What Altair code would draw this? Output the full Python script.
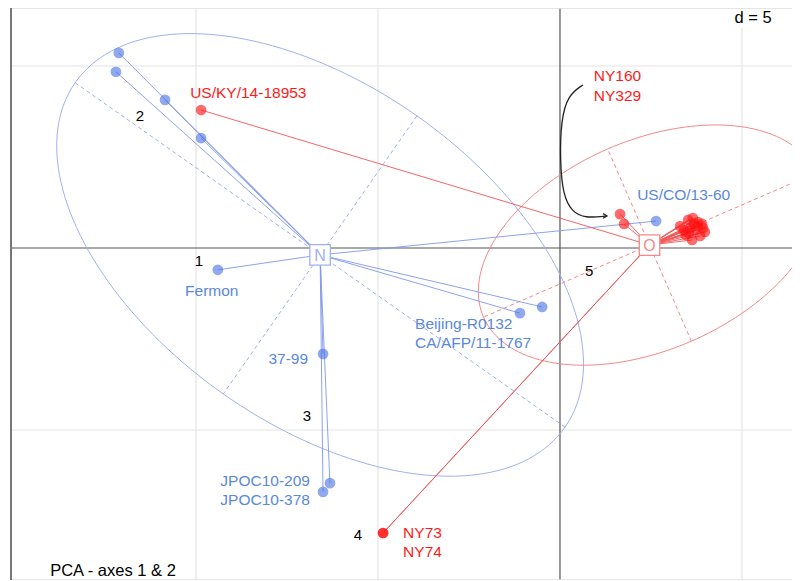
import altair as alt
import pandas as pd
import numpy as np

# ---------------- data ----------------
# group N (blue)
n_x = [-12.12, -12.20, -10.85, -9.86, -9.40, -6.51, -6.32, -6.51, -1.10, -0.49, 2.64]
n_y = [5.36, 4.84, 4.07, 3.02, -0.60, -2.91, -6.46, -6.70, -1.79, -1.62, 0.74]
# group O (red)
o_x = [-9.86, -4.86, -4.86, 1.65, 1.76,
       3.30, 3.52, 3.65, 3.79, 3.93, 3.98, 3.85, 3.63, 3.46, 3.57, 3.71, 3.41, 3.79, 3.90, 3.68, 3.54]
o_y = [3.79, -7.83, -7.83, 0.93, 0.66,
       0.60, 0.77, 0.82, 0.71, 0.55, 0.44, 0.33, 0.22, 0.36, 0.55, 0.49, 0.49, 0.60, 0.66, 0.66, 0.41]

group_names = ["N", "O"]
centroid_x = [-6.59, 2.46]
centroid_y = [-0.19, 0.08]
# ellipse axes (half-axis vectors)
ell_a = [(6.73, -4.73), (-4.56, -1.98)]
ell_b = [(-2.66, -3.82), (-1.15, 2.64)]

label_text = ["US/KY/14-18953", "Fermon", "Beijing-R0132", "CA/AFP/11-1767", "37-99",
              "JPOC10-209", "JPOC10-378", "NY73", "NY74", "NY160", "NY329", "US/CO/13-60"]
label_x = [-10.16, -10.30, -3.98, -3.98, -6.92, -6.87, -6.87, -4.31, -4.31, 0.93, 0.93, 2.12]
label_y = [4.26, -1.18, -2.09, -2.61, -3.05, -6.40, -6.92, -7.83, -8.35, 4.73, 4.18, 1.46]
label_align = ["left", "left", "left", "left", "right", "right", "right", "left", "left", "left", "left", "left"]
label_group = ["O", "N", "N", "N", "N", "N", "N", "O", "O", "O", "O", "N"]

num_text = ["1", "2", "3", "4", "5"]
num_x = [-9.92, -11.54, -6.95, -5.55, 0.80]
num_y = [-0.36, 3.63, -4.62, -7.88, -0.63]

arrow_x = [0.63, 0.22, 0.03, 0.00, 0.08, 0.33, 0.69, 1.29]
arrow_y = [4.48, 4.20, 3.52, 2.42, 1.46, 0.99, 0.82, 0.88]

grid_x = [-10, -5, 5]
grid_y = [5, -5]

PT_COL = {"N": "#4a72e4", "O": "#ff1010"}
LINE_COL = {"N": "#7f98ea", "O": "#f25555"}
ELL_COL = {"N": "#9fb1f0", "O": "#f48888"}
TXT_COL = {"N": "#5a88dc", "O": "#ff1a1a"}

W, H = 781, 572
x_min, x_max = -15.082, 6.374
y_min, y_max = -9.121, 6.593
xs = alt.Scale(domain=[x_min, x_max], nice=False, zero=False)
ys = alt.Scale(domain=[y_min, y_max], nice=False, zero=False)

def X(f="x"):
    return alt.X(f"{f}:Q", scale=xs, axis=None)

def Y(f="y"):
    return alt.Y(f"{f}:Q", scale=ys, axis=None)

def C(f):
    return alt.Color(f"{f}:N", scale=None)

# ---------------- tables ----------------
pts = pd.DataFrame({
    "x": n_x + o_x,
    "y": n_y + o_y,
    "g": ["N"] * len(n_x) + ["O"] * len(o_x),
})
cx = dict(zip(group_names, centroid_x))
cy = dict(zip(group_names, centroid_y))
pts["cx"] = pts["g"].map(cx)
pts["cy"] = pts["g"].map(cy)
pts["pc"] = pts["g"].map(PT_COL)
pts["lc"] = pts["g"].map(LINE_COL)

cent = pd.DataFrame({"g": group_names, "x": centroid_x, "y": centroid_y})
cent["ec"] = cent["g"].map(ELL_COL)
cent["tc"] = cent["g"].map(TXT_COL)

t = np.linspace(0, 2 * np.pi, 181)
ell_rows = []
axis_rows = []
for gi, g in enumerate(group_names):
    (ax, ay), (bx, by) = ell_a[gi], ell_b[gi]
    for k, tt in enumerate(t):
        ell_rows.append({"g": g, "k": k, "ec": ELL_COL[g],
                         "x": centroid_x[gi] + np.cos(tt) * ax + np.sin(tt) * bx,
                         "y": centroid_y[gi] + np.cos(tt) * ay + np.sin(tt) * by})
    for (vx, vy) in [(ax, ay), (bx, by)]:
        axis_rows.append({"g": g, "ec": ELL_COL[g],
                          "x": centroid_x[gi] - vx, "y": centroid_y[gi] - vy,
                          "x2": centroid_x[gi] + vx, "y2": centroid_y[gi] + vy})
ell = pd.DataFrame(ell_rows)
axes_df = pd.DataFrame(axis_rows)

labels = pd.DataFrame({"t": label_text, "x": label_x, "y": label_y,
                       "a": label_align, "g": label_group})
labels["tc"] = labels["g"].map(TXT_COL)
nums = pd.DataFrame({"t": num_text, "x": num_x, "y": num_y})
arrow = pd.DataFrame({"x": arrow_x, "y": arrow_y, "k": range(len(arrow_x))})
gx = pd.DataFrame({"x": grid_x})
gy = pd.DataFrame({"y": grid_y})
zero = pd.DataFrame({"v": [0]})

# ---------------- layers ----------------
grid_v = alt.Chart(gx).mark_rule(color="#e3e3e3", strokeWidth=1.2).encode(x=X())
grid_h = alt.Chart(gy).mark_rule(color="#e3e3e3", strokeWidth=1.2).encode(y=Y())
axis_v = alt.Chart(zero).mark_rule(color="#555555", strokeWidth=1.2).encode(x=X("v"))
axis_h = alt.Chart(zero).mark_rule(color="#555555", strokeWidth=1.2).encode(y=Y("v"))

ellipses = alt.Chart(ell).mark_line(strokeWidth=1, clip=True).encode(
    x=X(), y=Y(), color=C("ec"), detail="g:N", order="k:Q")
ell_axes = alt.Chart(axes_df).mark_rule(strokeWidth=1, strokeDash=[4, 3], clip=True).encode(
    x=X(), y=Y(), x2="x2:Q", y2="y2:Q", color=C("ec"))

spokes = alt.Chart(pts).mark_rule(strokeWidth=1, opacity=0.9).encode(
    x=X("cx"), y=Y("cy"), x2="x:Q", y2="y:Q", color=C("lc"))

points = alt.Chart(pts).mark_circle(size=115, opacity=0.62).encode(
    x=X(), y=Y(), color=C("pc"))

boxes = alt.Chart(cent).mark_square(size=420, filled=False, fill="white", strokeWidth=1.3,
                                    opacity=1, fillOpacity=1).encode(
    x=X(), y=Y(), stroke=alt.Stroke("ec:N", scale=None))
box_txt = alt.Chart(cent).mark_text(fontSize=16, font="Liberation Sans", baseline="middle", dy=1).encode(
    x=X(), y=Y(), text="g:N", color=C("ec"))

lab_left = alt.Chart(labels[labels.a == "left"]).mark_text(
    fontSize=15.5, font="Liberation Sans", align="left", baseline="middle").encode(
    x=X(), y=Y(), text="t:N", color=C("tc"))
lab_right = alt.Chart(labels[labels.a == "right"]).mark_text(
    fontSize=15.5, font="Liberation Sans", align="right", baseline="middle").encode(
    x=X(), y=Y(), text="t:N", color=C("tc"))
num_lab = alt.Chart(nums).mark_text(fontSize=15, font="Liberation Sans", color="black",
                                    baseline="middle").encode(x=X(), y=Y(), text="t:N")

arrow_line = alt.Chart(arrow).mark_line(color="#222222", strokeWidth=1.3, interpolate="basis").encode(
    x=X(), y=Y(), order="k:Q")
arrow_head = alt.Chart(arrow.tail(1)).mark_point(
    shape="M-1,-0.6L0,0L-1,0.6", filled=False, size=60, color="#222222", strokeWidth=1.3, opacity=1).encode(
    x=X(), y=Y())

border_left = alt.Chart(zero).mark_rule(color="#777777", strokeWidth=2).encode(
    x=alt.value(0), y=alt.value(0), y2=alt.value(H))
border_top = alt.Chart(zero).mark_rule(color="#dddddd", strokeWidth=1.5).encode(
    x=alt.value(0), x2=alt.value(W), y=alt.value(0))
border_bot = alt.Chart(zero).mark_rule(color="#dddddd", strokeWidth=1.5).encode(
    x=alt.value(0), x2=alt.value(W), y=alt.value(H))

d_bg = alt.Chart(zero).mark_rect(color="white").encode(
    x=alt.value(714), x2=alt.value(781), y=alt.value(1), y2=alt.value(20))
d_txt = alt.Chart(pd.DataFrame({"t": ["d = 5"]})).mark_text(
    fontSize=16.5, font="Liberation Sans", color="black", baseline="middle").encode(
    x=alt.value(742), y=alt.value(10), text="t:N")
title_txt = alt.Chart(pd.DataFrame({"t": ["PCA - axes 1 & 2"]})).mark_text(
    fontSize=16.5, font="Liberation Sans", color="black", baseline="middle").encode(
    x=alt.value(102), y=alt.value(563), text="t:N")

chart = alt.layer(
    grid_v, grid_h, axis_v, axis_h,
    ellipses, ell_axes, spokes, points, boxes, box_txt,
    lab_left, lab_right, num_lab, arrow_line, arrow_head,
    border_top, border_bot, border_left, d_bg, d_txt, title_txt,
).properties(
    width=W, height=H,
    autosize=alt.AutoSizeParams(type="none"),
    padding={"left": 3, "top": 0, "right": 0, "bottom": 0},
).configure_view(stroke=None)

chart.save("out.html", embed_options={"renderer": "svg", "actions": False})
